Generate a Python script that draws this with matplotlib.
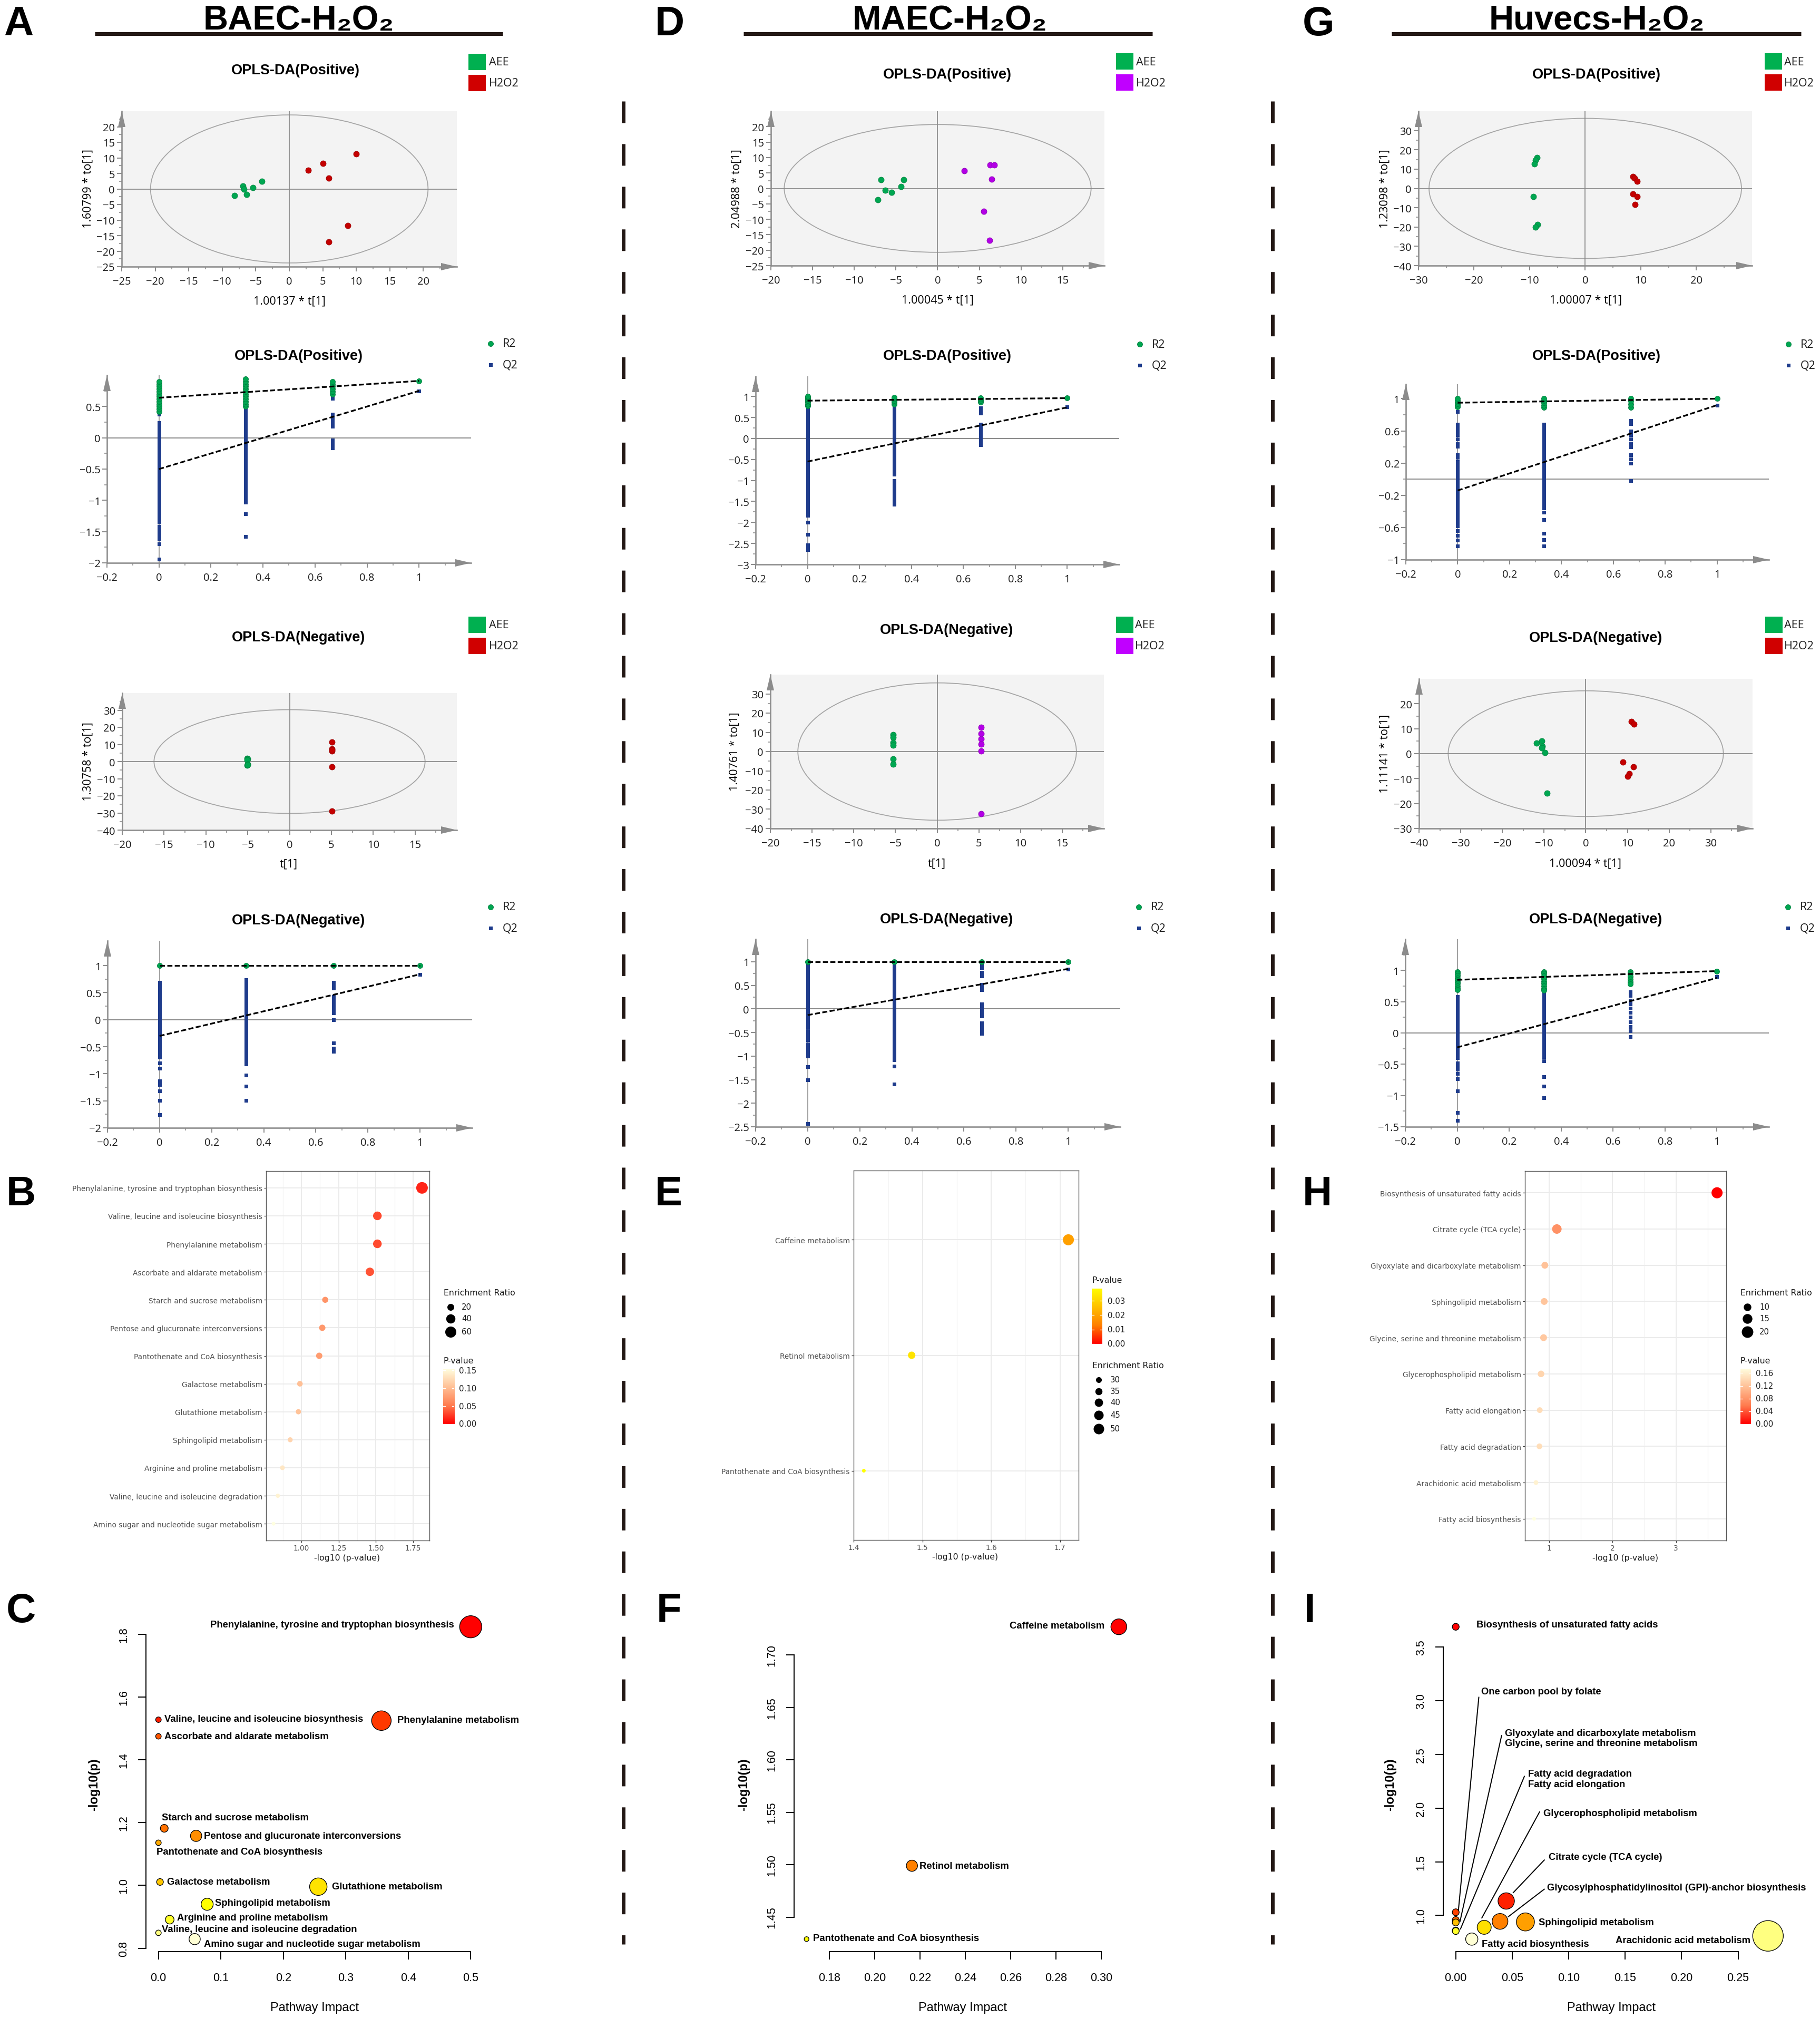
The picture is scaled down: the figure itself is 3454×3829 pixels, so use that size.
import numpy as np
import matplotlib
matplotlib.use("Agg")
import matplotlib.pyplot as plt
from matplotlib.patches import Ellipse, Polygon, Rectangle
from matplotlib.colors import LinearSegmentedColormap, Normalize, hsv_to_rgb
from matplotlib.ticker import FuncFormatter

plt.rcParams["font.family"] = "Open Sans"

# ---------------- OPLS-DA score plots (t[1], to[1]) ----------------
A_pos_aee_x = [-8.2, -6.9, -6.8, -6.4, -5.4, -4.1]
A_pos_aee_y = [-2.1, 0.9, 0.0, -1.7, 0.5, 2.4]
A_pos_h2o2_x = [2.8, 5.0, 5.9, 10.0, 8.7, 5.9]
A_pos_h2o2_y = [6.1, 8.3, 3.5, 11.2, -11.7, -17.0]
A_neg_aee_x = [-5.1, -5.0, -5.1, -5.0, -5.1, -5.0]
A_neg_aee_y = [2.0, 1.4, 1.0, -1.6, -2.0, -1.8]
A_neg_h2o2_x = [5.1, 5.1, 5.1, 5.1, 5.1, 5.1]
A_neg_h2o2_y = [11.5, 7.4, 6.1, 6.8, -3.1, -28.8]

D_pos_aee_x = [-6.8, -4.1, -4.4, -6.3, -5.5, -7.2]
D_pos_aee_y = [2.8, 2.8, 0.6, -0.6, -1.3, -3.6]
D_pos_h2o2_x = [3.2, 6.3, 6.8, 6.5, 5.5, 6.2]
D_pos_h2o2_y = [5.8, 7.6, 7.6, 3.0, -7.4, -16.8]
D_neg_aee_x = [-5.3, -5.3, -5.3, -5.3, -5.3, -5.3]
D_neg_aee_y = [8.9, 7.3, 4.6, 3.3, -3.8, -6.6]
D_neg_h2o2_x = [5.3, 5.3, 5.3, 5.3, 5.3, 5.3]
D_neg_h2o2_y = [12.5, 9.3, 6.7, 3.8, 0.4, -32.2]

G_pos_aee_x = [-8.7, -9.0, -9.1, -9.3, -8.6, -9.0]
G_pos_aee_y = [15.9, 14.5, 12.8, -4.1, -18.6, -20.1]
G_pos_h2o2_x = [8.6, 8.9, 9.3, 8.6, 9.3, 9.0]
G_pos_h2o2_y = [6.2, 5.2, 3.7, -2.9, -4.1, -8.3]
G_neg_aee_x = [-11.8, -10.5, -10.4, -10.5, -9.8, -9.3]
G_neg_aee_y = [4.3, 5.1, 3.0, 2.3, 0.4, -15.9]
G_neg_h2o2_x = [10.9, 11.6, 8.9, 11.5, 10.4, 10.0]
G_neg_h2o2_y = [12.8, 11.8, -3.3, -5.2, -8.1, -9.1]

# Hotelling T2 ellipse half-axes
A_pos_ell = (20.7, 23.8)
A_neg_ell = (16.2, 30.3)
D_pos_ell = (18.4, 20.7)
D_neg_ell = (16.7, 35.7)
G_pos_ell = (28.1, 36.3)
G_neg_ell = (33.0, 25.2)

# axis ticks of the score plots
A_pos_xt = [-25, -20, -15, -10, -5, 0, 5, 10, 15, 20]
A_pos_yt = [-25, -20, -15, -10, -5, 0, 5, 10, 15, 20]
A_neg_xt = [-20, -15, -10, -5, 0, 5, 10, 15]
A_neg_yt = [-40, -30, -20, -10, 0, 10, 20, 30]
D_pos_xt = [-20, -15, -10, -5, 0, 5, 10, 15]
D_pos_yt = [-25, -20, -15, -10, -5, 0, 5, 10, 15, 20]
D_neg_xt = [-20, -15, -10, -5, 0, 5, 10, 15]
D_neg_yt = [-40, -30, -20, -10, 0, 10, 20, 30]
G_pos_xt = [-30, -20, -10, 0, 10, 20]
G_pos_yt = [-40, -30, -20, -10, 0, 10, 20, 30]
G_neg_xt = [-40, -30, -20, -10, 0, 10, 20, 30]
G_neg_yt = [-30, -20, -10, 0, 10, 20]

# ---------------- permutation tests (200 permutations) ----------------
perm_x = [0.0, 0.333, 0.667, 1.0]
perm_xt = [-0.2, 0, 0.2, 0.4, 0.6, 0.8, 1]

A_pos_r2 = [[0.42, 0.46, 0.5, 0.54, 0.58, 0.62, 0.66, 0.7, 0.74, 0.78, 0.82, 0.86, 0.9],
            [0.5, 0.54, 0.58, 0.62, 0.66, 0.7, 0.74, 0.78, 0.82, 0.86, 0.9, 0.94],
            [0.7, 0.74, 0.78, 0.82, 0.86, 0.9],
            [0.91]]
A_pos_q2 = [[0.66, 0.62, 0.58, 0.54, 0.5, 0.46, 0.42, 0.38, 0.24, 0.2, 0.16, 0.12, 0.08, 0.04, 0.0,
             -0.04, -0.08, -0.12, -0.16, -0.2, -0.24, -0.28, -0.32, -0.36, -0.4, -0.44, -0.48, -0.52,
             -0.56, -0.6, -0.64, -0.68, -0.72, -0.76, -0.8, -0.84, -0.88, -0.92, -0.96, -1.0, -1.06,
             -1.1, -1.14, -1.2, -1.25, -1.3, -1.35, -1.42, -1.48, -1.52, -1.58, -1.62, -1.7, -1.94],
            [0.66, 0.62, 0.58, 0.54, 0.5, 0.44, 0.4, 0.36, 0.32, 0.28, 0.24, 0.2, 0.16, 0.12, 0.08,
             0.04, 0.0, -0.04, -0.08, -0.12, -0.16, -0.2, -0.24, -0.28, -0.32, -0.36, -0.4, -0.44,
             -0.48, -0.52, -0.56, -0.6, -0.64, -0.68, -0.72, -0.76, -0.8, -0.84, -0.88, -0.92, -0.96,
             -1.0, -1.03, -1.22, -1.58],
            [0.67, 0.63, 0.38, 0.34, 0.3, 0.26, 0.22, 0.18, -0.04, -0.08, -0.12, -0.16],
            [0.75]]
A_pos_r2_fit = [0.64, 0.91]
A_pos_q2_fit = [-0.5, 0.75]
A_pos_pyt = [-2, -1.5, -1, -0.5, 0, 0.5]

A_neg_r2 = [[1.0], [1.0], [1.0], [1.0]]
A_neg_q2 = [[0.69, 0.65, 0.61, 0.57, 0.53, 0.49, 0.45, 0.41, 0.37, 0.33, 0.29, 0.25, 0.21, 0.17, 0.13,
             0.09, 0.05, 0.01, -0.03, -0.07, -0.11, -0.15, -0.19, -0.23, -0.27, -0.33, -0.37, -0.41,
             -0.45, -0.49, -0.53, -0.57, -0.61, -0.65, -0.69, -0.8, -0.9, -1.13, -1.17, -1.2, -1.32,
             -1.49, -1.76],
            [0.74, 0.7, 0.66, 0.62, 0.58, 0.54, 0.5, 0.46, 0.42, 0.38, 0.34, 0.3, 0.26, 0.22, 0.18,
             0.14, 0.1, 0.06, 0.02, -0.02, -0.06, -0.1, -0.14, -0.18, -0.22, -0.26, -0.3, -0.34,
             -0.38, -0.42, -0.46, -0.5, -0.54, -0.58, -0.62, -0.66, -0.7, -0.75, -0.82, -1.03,
             -1.23, -1.49],
            [0.69, 0.64, 0.58, 0.43, 0.38, 0.33, 0.28, 0.22, 0.17, 0.12, 0.0, -0.43, -0.53, -0.59],
            [0.84]]
A_neg_r2_fit = [1.0, 1.0]
A_neg_q2_fit = [-0.3, 0.84]
A_neg_pyt = [-2, -1.5, -1, -0.5, 0, 0.5, 1]

D_pos_r2 = [[0.78, 0.82, 0.86, 0.9, 0.94, 0.98, 1.0],
            [0.82, 0.86, 0.9, 0.94, 0.98],
            [0.86, 0.9, 0.94, 0.97],
            [0.96]]
D_pos_q2 = [[0.76, 0.7, 0.64, 0.58, 0.52, 0.46, 0.4, 0.34, 0.28, 0.22, 0.16, 0.1, 0.04, -0.02, -0.08,
             -0.14, -0.2, -0.26, -0.32, -0.38, -0.44, -0.5, -0.56, -0.62, -0.68, -0.74, -0.8, -0.86,
             -0.92, -0.98, -1.04, -1.1, -1.16, -1.22, -1.28, -1.36, -1.42, -1.5, -1.56, -1.62, -1.7,
             -1.78, -1.83, -1.99, -2.29, -2.54, -2.6, -2.65],
            [0.88, 0.82, 0.76, 0.7, 0.64, 0.58, 0.52, 0.46, 0.4, 0.34, 0.28, 0.22, 0.16, 0.1, 0.04,
             -0.02, -0.08, -0.14, -0.2, -0.26, -0.32, -0.38, -0.44, -0.5, -0.56, -0.62, -0.68, -0.74,
             -0.8, -0.86, -1.0, -1.06, -1.12, -1.18, -1.24, -1.3, -1.36, -1.42, -1.48, -1.54, -1.57],
            [0.73, 0.66, 0.6, 0.34, 0.27, 0.2, 0.16, 0.07, 0.0, -0.07, -0.15],
            [0.75]]
D_pos_r2_fit = [0.9, 0.96]
D_pos_q2_fit = [-0.55, 0.74]
D_pos_pyt = [-3, -2.5, -2, -1.5, -1, -0.5, 0, 0.5, 1]

D_neg_r2 = [[1.0], [1.0], [1.0], [1.0]]
D_neg_q2 = [[1.0, 0.94, 0.88, 0.8, 0.74, 0.66, 0.6, 0.52, 0.46, 0.38, 0.32, 0.24, 0.18, 0.1, 0.04,
             -0.04, -0.1, -0.18, -0.24, -0.32, -0.38, -0.46, -0.52, -0.6, -0.66, -0.74, -0.8, -0.88,
             -0.94, -1.0, -1.23, -1.5, -2.43],
            [1.0, 0.95, 0.9, 0.85, 0.8, 0.75, 0.7, 0.65, 0.6, 0.55, 0.5, 0.45, 0.4, 0.35, 0.3, 0.25,
             0.2, 0.15, 0.1, 0.05, 0.0, -0.05, -0.1, -0.15, -0.2, -0.25, -0.3, -0.35, -0.4, -0.45,
             -0.5, -0.55, -0.6, -0.65, -0.7, -0.75, -0.8, -0.85, -0.9, -0.95, -1.0, -1.04, -1.08,
             -1.21, -1.6],
            [1.0, 0.93, 0.86, 0.78, 0.7, 0.52, 0.46, 0.41, 0.11, 0.05, -0.02, -0.08, -0.15, -0.3,
             -0.37, -0.44, -0.52],
            [0.84]]
D_neg_r2_fit = [1.0, 1.0]
D_neg_q2_fit = [-0.13, 0.85]
D_neg_pyt = [-2.5, -2, -1.5, -1, -0.5, 0, 0.5, 1]

G_pos_r2 = [[0.9, 0.92, 0.94, 0.96, 0.98, 1.0],
            [0.89, 0.92, 0.95, 0.98, 1.0],
            [0.89, 0.93, 0.97, 1.0],
            [1.0]]
G_pos_q2 = [[0.84, 0.68, 0.64, 0.6, 0.55, 0.5, 0.45, 0.41, 0.3, 0.27, 0.22, 0.18, 0.14, 0.1, 0.06,
             0.02, -0.02, -0.06, -0.1, -0.14, -0.18, -0.22, -0.26, -0.3, -0.34, -0.38, -0.42, -0.46,
             -0.5, -0.54, -0.58, -0.64, -0.7, -0.76, -0.83],
            [0.68, 0.64, 0.6, 0.56, 0.52, 0.48, 0.44, 0.4, 0.36, 0.32, 0.28, 0.24, 0.2, 0.16, 0.12,
             0.08, 0.04, 0.0, -0.04, -0.08, -0.12, -0.16, -0.2, -0.24, -0.28, -0.32, -0.36, -0.41,
             -0.5, -0.67, -0.75, -0.83],
            [0.73, 0.69, 0.6, 0.55, 0.5, 0.45, 0.4, 0.3, 0.25, 0.2, -0.02],
            [0.92]]
G_pos_r2_fit = [0.95, 1.0]
G_pos_q2_fit = [-0.14, 0.92]
G_pos_pyt = [-1, -0.6, -0.2, 0.2, 0.6, 1]

G_neg_r2 = [[0.98, 0.95, 0.92, 0.88, 0.85, 0.82, 0.79, 0.75, 0.72, 0.69],
            [0.98, 0.95, 0.91, 0.87, 0.83, 0.79, 0.75, 0.71, 0.68],
            [0.98, 0.94, 0.9, 0.86, 0.82, 0.78],
            [0.99]]
G_neg_q2 = [[0.58, 0.53, 0.48, 0.43, 0.38, 0.33, 0.28, 0.23, 0.18, 0.13, 0.08, 0.03, -0.02, -0.07,
             -0.12, -0.17, -0.22, -0.27, -0.32, -0.37, -0.4, -0.48, -0.53, -0.58, -0.65, -0.73,
             -0.93, -1.27, -1.4],
            [0.72, 0.67, 0.62, 0.57, 0.52, 0.47, 0.42, 0.37, 0.32, 0.27, 0.22, 0.17, 0.12, 0.07, 0.02,
             -0.03, -0.08, -0.13, -0.18, -0.23, -0.28, -0.33, -0.38, -0.45, -0.7, -0.85, -1.04],
            [0.66, 0.6, 0.52, 0.46, 0.4, 0.33, 0.25, 0.18, 0.1, 0.03, -0.06],
            [0.9]]
G_neg_r2_fit = [0.85, 0.99]
G_neg_q2_fit = [-0.23, 0.88]
G_neg_pyt = [-1.5, -1, -0.5, 0, 0.5, 1]

# ---------------- enrichment (B, E, H) ----------------
B_paths = ["Phenylalanine, tyrosine and tryptophan biosynthesis",
           "Valine, leucine and isoleucine biosynthesis", "Phenylalanine metabolism",
           "Ascorbate and aldarate metabolism", "Starch and sucrose metabolism",
           "Pentose and glucuronate interconversions", "Pantothenate and CoA biosynthesis",
           "Galactose metabolism", "Glutathione metabolism", "Sphingolipid metabolism",
           "Arginine and proline metabolism", "Valine, leucine and isoleucine degradation",
           "Amino sugar and nucleotide sugar metabolism"]
B_pval = [0.0155, 0.0309, 0.0309, 0.0347, 0.0692, 0.0724, 0.0759, 0.1023, 0.1047, 0.1189,
          0.1340, 0.1439, 0.1538]
B_ratio = [66.7, 34.4, 34.4, 32.5, 14.9, 16.5, 16.5, 12.2, 10.5, 9.3, 8.0, 5.9, 4.1]
B_xt = [1.00, 1.25, 1.50, 1.75]
B_xtl = ["1.00", "1.25", "1.50", "1.75"]
B_ratio_breaks = [20, 40, 60]
B_p_breaks = [0.00, 0.05, 0.10, 0.15]

E_paths = ["Caffeine metabolism", "Retinol metabolism", "Pantothenate and CoA biosynthesis"]
E_pval = [0.0194, 0.0328, 0.0385]
E_ratio = [52.4, 36.0, 22.7]
E_xt = [1.4, 1.5, 1.6, 1.7]
E_xtl = ["1.4", "1.5", "1.6", "1.7"]
E_ratio_breaks = [30, 35, 40, 45, 50]
E_p_breaks = [0.00, 0.01, 0.02, 0.03]

H_paths = ["Biosynthesis of unsaturated fatty acids", "Citrate cycle (TCA cycle)",
           "Glyoxylate and dicarboxylate metabolism", "Sphingolipid metabolism",
           "Glycine, serine and threonine metabolism", "Glycerophospholipid metabolism",
           "Fatty acid elongation", "Fatty acid degradation", "Arachidonic acid metabolism",
           "Fatty acid biosynthesis"]
H_pval = [0.000224, 0.0759, 0.1175, 0.1202, 0.1230, 0.1349, 0.1413, 0.1429, 0.1622, 0.1738]
H_ratio = [18.6, 14.4, 8.5, 8.5, 8.5, 8.0, 6.5, 6.5, 4.9, 3.6]
H_xt = [1, 2, 3]
H_xtl = ["1", "2", "3"]
H_ratio_breaks = [10, 15, 20]
H_p_breaks = [0.00, 0.04, 0.08, 0.12, 0.16]

# ---------------- pathway impact (C, F, I) ----------------
C_paths = ["Phenylalanine, tyrosine and tryptophan biosynthesis", "Phenylalanine metabolism",
           "Valine, leucine and isoleucine biosynthesis", "Ascorbate and aldarate metabolism",
           "Starch and sucrose metabolism", "Pentose and glucuronate interconversions",
           "Pantothenate and CoA biosynthesis", "Galactose metabolism", "Glutathione metabolism",
           "Sphingolipid metabolism", "Arginine and proline metabolism",
           "Valine, leucine and isoleucine degradation",
           "Amino sugar and nucleotide sugar metabolism"]
C_impact = [0.5, 0.357, 0.0, 0.0, 0.0093, 0.0603, 0.0, 0.0025, 0.256, 0.078, 0.018, 0.0, 0.058]
C_logp = [1.824, 1.525, 1.528, 1.475, 1.182, 1.158, 1.136, 1.011, 0.996, 0.940, 0.891, 0.849, 0.829]
C_xt = [0.0, 0.1, 0.2, 0.3, 0.4, 0.5]
C_xtl = ["0.0", "0.1", "0.2", "0.3", "0.4", "0.5"]
C_yt = [0.8, 1.0, 1.2, 1.4, 1.6, 1.8]
C_ytl = ["0.8", "1.0", "1.2", "1.4", "1.6", "1.8"]

F_paths = ["Caffeine metabolism", "Retinol metabolism", "Pantothenate and CoA biosynthesis"]
F_impact = [0.3077, 0.2164, 0.1699]
F_logp = [1.727, 1.499, 1.429]
F_xt = [0.18, 0.20, 0.22, 0.24, 0.26, 0.28, 0.30]
F_xtl = ["0.18", "0.20", "0.22", "0.24", "0.26", "0.28", "0.30"]
F_yt = [1.45, 1.50, 1.55, 1.60, 1.65, 1.70]
F_ytl = ["1.45", "1.50", "1.55", "1.60", "1.65", "1.70"]

I_paths = ["Biosynthesis of unsaturated fatty acids", "Citrate cycle (TCA cycle)",
           "One carbon pool by folate", "Glyoxylate and dicarboxylate metabolism",
           "Glycosylphosphatidylinositol (GPI)-anchor biosynthesis", "Sphingolipid metabolism",
           "Glycine, serine and threonine metabolism", "Glycerophospholipid metabolism",
           "Fatty acid degradation", "Fatty acid elongation", "Arachidonic acid metabolism",
           "Fatty acid biosynthesis"]
I_impact = [0.0, 0.0447, 0.0, 0.0, 0.0392, 0.0617, 0.0, 0.0252, 0.0, 0.0, 0.2765, 0.0142]
I_logp = [3.69, 1.135, 1.03, 0.958, 0.945, 0.94, 0.935, 0.89, 0.86, 0.855, 0.81, 0.78]
I_xt = [0.0, 0.05, 0.10, 0.15, 0.20, 0.25]
I_xtl = ["0.00", "0.05", "0.10", "0.15", "0.20", "0.25"]
I_yt = [1.0, 1.5, 2.0, 2.5, 3.0, 3.5]
I_ytl = ["1.0", "1.5", "2.0", "2.5", "3.0", "3.5"]

# ---------------- figure helpers ----------------
W, H = 3455, 3830
PT = 0.72                     # pixels -> points at 100 dpi
GRAY = "#8c8c8c"
BOLD = ["Liberation Sans", "DejaVu Sans"]
GG = "DejaVu Sans"
RF = "Liberation Sans"
GG_TEXT = 9.8
GG_LEG = 11.3
BUB_LAB = 13.3

fig = plt.figure(figsize=(W / 100, H / 100), dpi=100)
fig.patch.set_facecolor("white")
ov = fig.add_axes([0, 0, 1, 1], zorder=30)
ov.set_xlim(0, W)
ov.set_ylim(H, 0)
ov.axis("off")
ov.patch.set_alpha(0)


def add_ax(x0, y0, x1, y1, z=5):
    return fig.add_axes([x0 / W, 1 - y1 / H, (x1 - x0) / W, (y1 - y0) / H], zorder=z)


def txt(x, y, s, size, **kw):
    kw.setdefault("ha", "center")
    kw.setdefault("va", "center")
    ov.text(x, y, s, fontsize=size, **kw)


def gfmt(v, pos=None):
    return ("%g" % v).replace("-", "\u2212")


def minors(ticks, lim):
    step = ticks[1] - ticks[0]
    cand = [t + step / 2 for t in ticks] + [ticks[0] - step / 2]
    return [c for c in cand if lim[0] + 1e-9 < c < lim[1] - 1e-9]


def simca_axes(ax, box, xlim, ylim, xt, yt):
    for s in ("top", "right"):
        ax.spines[s].set_visible(False)
    for s in ("left", "bottom"):
        ax.spines[s].set_color(GRAY)
        ax.spines[s].set_linewidth(2.6 * PT)
    ax.set_xticks(xt)
    ax.set_yticks(yt)
    ax.set_xticks(minors(xt, xlim), minor=True)
    ax.set_yticks(minors(yt, ylim), minor=True)
    ax.set_xlim(*xlim)
    ax.set_ylim(*ylim)
    ax.xaxis.set_major_formatter(FuncFormatter(gfmt))
    ax.yaxis.set_major_formatter(FuncFormatter(gfmt))
    ax.tick_params(which="major", length=9 * PT, width=2 * PT, color=GRAY,
                   labelsize=14.5, labelcolor="#1a1a1a")
    ax.tick_params(which="minor", length=5 * PT, width=1.6 * PT, color=GRAY)
    ax.tick_params(axis="x", which="major", pad=9 * PT)
    ax.tick_params(axis="y", which="major", pad=4 * PT)
    x0, y0, x1, y1 = box
    ov.add_patch(Polygon([(x0, y0), (x0 - 7, y0 + 30), (x0 + 7, y0 + 30)], closed=True,
                         color=GRAY, lw=0))
    ov.add_patch(Polygon([(x1, y1), (x1 - 30, y1 - 7), (x1 - 30, y1 + 7)], closed=True,
                         color=GRAY, lw=0))


def score_plot(box, xlim, ylim, xt, yt, ell, gx, gy, tx, ty, tcol, tedge):
    ax = add_ax(*box)
    ax.set_facecolor("#f3f3f3")
    ax.add_patch(Ellipse((0, 0), 2 * ell[0], 2 * ell[1], fill=False, ec="#a6a6a6", lw=1.8 * PT))
    ax.axhline(0, color=GRAY, lw=1.8 * PT, zorder=1)
    ax.axvline(0, color=GRAY, lw=1.8 * PT, zorder=1)
    ax.scatter(gx, gy, s=(11 * PT) ** 2, c="#00a651", edgecolors="#00843d", linewidths=0.6, zorder=3)
    ax.scatter(tx, ty, s=(11 * PT) ** 2, c=tcol, edgecolors=tedge, linewidths=0.6, zorder=3)
    simca_axes(ax, box, xlim, ylim, xt, yt)
    return ax


def perm_plot(box, ylim, yt, r2, q2, r2_fit, q2_fit):
    ax = add_ax(*box)
    ax.patch.set_alpha(0)
    ax.axhline(0, color=GRAY, lw=2 * PT, zorder=1)
    ax.axvline(0, color=GRAY, lw=1.6 * PT, zorder=1)
    for xv, vals in zip(perm_x, q2):
        ax.scatter([xv] * len(vals), vals, marker="s", s=(7 * PT) ** 2, c="#1f3c8c",
                   linewidths=0, zorder=3)
    for xv, vals in zip(perm_x, r2):
        ax.scatter([xv] * len(vals), vals, marker="o", s=(10 * PT) ** 2, c="#00a651",
                   edgecolors="#007a3d", linewidths=0.6, zorder=4)
    ax.plot([perm_x[0], perm_x[-1]], r2_fit, color="black", lw=3.2 * PT, ls=(0, (3, 1.4)), zorder=5)
    ax.plot([perm_x[0], perm_x[-1]], q2_fit, color="black", lw=3.2 * PT, ls=(0, (3, 1.4)), zorder=5)
    simca_axes(ax, box, (-0.2, 1.2), ylim, perm_xt, yt)
    ax.tick_params(axis="y", which="major", pad=3 * PT)
    return ax


def group_legend(x0, y0, tcol, lab_x, y_step=40):
    ov.add_patch(Rectangle((x0, y0), 33, 31, color="#00b050", lw=0))
    ov.add_patch(Rectangle((x0, y0 + y_step), 33, 31, color=tcol, lw=0))
    txt(lab_x, y0 + 16, "AEE", 15.5, ha="left", color="#1a1a1a")
    txt(lab_x, y0 + y_step + 16, "H2O2", 15.5, ha="left", color="#1a1a1a")


def perm_legend(x, y, lab_x):
    ov.scatter([x], [y], s=(10 * PT) ** 2, c="#00a651", edgecolors="#007a3d", linewidths=0.6)
    ov.scatter([x], [y + 40], marker="s", s=(7 * PT) ** 2, c="#1f3c8c", linewidths=0)
    txt(lab_x, y, "R2", 15.5, ha="left", color="#1a1a1a")
    txt(lab_x, y + 40, "Q2", 15.5, ha="left", color="#1a1a1a")


def title(x, y, s):
    txt(x, y, s, 19.5, family=BOLD, fontweight="bold")


# colour scales of the enrichment plots (ggplot gradients)
cm_pale = LinearSegmentedColormap.from_list("pale", ["#ff0000", "#ff7c4f", "#ffc096", "#ffffe0"])
cm_yell = LinearSegmentedColormap.from_list("yell", ["#ff0000", "#ff7f00", "#ffc100", "#ffff00"])


def enrich_plot(box, names, pvals, ratio, cmap, xt, xtl, dsize):
    ax = add_ax(*box)
    pvals = np.array(pvals)
    x = -np.log10(pvals)
    n = len(names)
    yp = np.arange(n, 0, -1)
    r = x.max() - x.min()
    ax.set_xticks(xt)
    ax.set_xticklabels(xtl)
    step = xt[1] - xt[0]
    ax.set_xticks([t + step / 2 for t in [xt[0] - step] + list(xt)], minor=True)
    ax.set_yticks(yp)
    ax.set_yticklabels(names)
    ax.set_xlim(x.min() - 0.05 * r, x.max() + 0.05 * r)
    ax.set_ylim(0.4, n + 0.6)
    ax.grid(which="major", color="#ebebeb", lw=2 * PT)
    ax.grid(which="minor", axis="x", color="#f3f3f3", lw=1.2 * PT)
    ax.set_axisbelow(True)
    d = dsize(np.array(ratio))
    ax.scatter(x, yp, s=(d * PT) ** 2, c=pvals, cmap=cmap, norm=Normalize(0, pvals.max()),
               linewidths=0, zorder=3)
    for s in ax.spines.values():
        s.set_color("#555555")
        s.set_linewidth(1.4 * PT)
    ax.tick_params(which="major", length=4 * PT, width=1.3 * PT, color="#333333",
                   labelsize=GG_TEXT, labelcolor="#4d4d4d", pad=3 * PT)
    ax.tick_params(which="minor", length=0)
    for t in ax.get_xticklabels() + ax.get_yticklabels():
        t.set_family(GG)
    return ax


def colorbar(x0, y0, x1, y1, cmap, vmax, breaks, lab_x):
    cax = add_ax(x0, y0, x1, y1, z=6)
    grad = np.linspace(0, 1, 256).reshape(-1, 1)
    cax.imshow(grad, aspect="auto", cmap=cmap, origin="lower", extent=(0, 1, 0, vmax))
    cax.set_xlim(0, 1)
    cax.set_ylim(0, vmax)
    cax.axis("off")
    for b in breaks:
        cax.plot([0, 0.2], [b, b], color="white", lw=1.3 * PT)
        cax.plot([0.8, 1], [b, b], color="white", lw=1.3 * PT)
        yy = y1 - (y1 - y0) * b / vmax
        txt(lab_x, yy, "%.2f" % b, GG_LEG - 0.6, ha="left", family=GG, color="#1a1a1a")


def size_legend(x, ys, breaks, dsize, lab_x):
    for yy, b in zip(ys, breaks):
        ov.scatter([x], [yy], s=(float(dsize(b)) * PT) ** 2, c="black", linewidths=0)
        txt(lab_x, yy, str(b), GG_LEG - 0.6, ha="left", family=GG, color="#1a1a1a")


def heat_colors(n):
    j = n // 4
    i = n - j
    cols = [hsv_to_rgb((h, 1, 1)) for h in np.linspace(0, 1 / 6, i)]
    if j:
        cols += [hsv_to_rgb((1 / 6, s, 1)) for s in np.linspace(1 - 1 / (2 * j), 1 / (2 * j), j)]
    return cols


def bubble_plot(x0, impact, logp, xt, xtl, yt, ytl, dmin, dmax):
    ax = add_ax(x0, 3064, x0 + 640, 3704)
    ax.patch.set_alpha(0)
    impact = np.array(impact)
    logp = np.array(logp)
    rx = impact.max() - impact.min()
    ry = logp.max() - logp.min()
    hc = heat_colors(len(logp))
    cols = [None] * len(logp)
    for k, idx in enumerate(np.argsort(-logp, kind="stable")):
        cols[idx] = hc[k]
    d = dmin + (dmax - dmin) * np.sqrt((impact - impact.min()) / rx)
    ax.scatter(impact, logp, s=(d * PT) ** 2, c=cols, edgecolors="black", linewidths=1.3 * PT,
               zorder=3, clip_on=False)
    for s in ("top", "right"):
        ax.spines[s].set_visible(False)
    for s in ("left", "bottom"):
        ax.spines[s].set_linewidth(2 * PT)
    ax.set_xticks(xt)
    ax.set_xticklabels(xtl)
    ax.set_yticks(yt)
    ax.set_yticklabels(ytl, rotation=90, va="center")
    ax.set_xlim(impact.min() - 0.04 * rx, impact.max() + 0.04 * rx)
    ax.set_ylim(logp.min() - 0.04 * ry, logp.max() + 0.04 * ry)
    ax.spines["left"].set_bounds(yt[0], yt[-1])
    ax.spines["bottom"].set_bounds(xt[0], xt[-1])
    ax.tick_params(length=15 * PT, width=2 * PT, labelsize=15.5, labelcolor="black")
    ax.tick_params(axis="x", pad=24 * PT)
    ax.tick_params(axis="y", pad=17 * PT)
    for t in ax.get_xticklabels() + ax.get_yticklabels():
        t.set_family(RF)
    return ax


def to_px(ax, x, y):
    X, Y = ax.transData.transform((x, y))
    return X, H - Y


def bubble_labels(ax, impact, logp, layout):
    for xv, yv, lay in zip(impact, logp, layout):
        if lay is None:
            continue
        text, dx, dy, ha, lead = lay
        px0, py0 = to_px(ax, xv, yv)
        if lead is not None:
            ov.plot([px0 + lead[0], px0 + lead[2]], [py0 + lead[1], py0 + lead[3]],
                    color="black", lw=2 * PT)
        txt(px0 + dx, py0 + dy, text, BUB_LAB, ha=ha, family=RF, fontweight="bold",
            linespacing=1.2)


# ---------------- header rows ----------------
for ltr, lx, head, hx, ux0, ux1 in [("A", 7, "BAEC-H\u2082O\u2082", 567, 180, 954),
                                     ("D", 1243, "MAEC-H\u2082O\u2082", 1803, 1411, 2187),
                                     ("G", 2472, "Huvecs-H\u2082O\u2082", 3030, 2641, 3418)]:
    ov.text(lx, 67, ltr, fontsize=56, fontweight="bold", family=BOLD, ha="left", va="baseline")
    ov.text(hx, 56, head, fontsize=47, fontweight="bold", family=BOLD, ha="center", va="baseline")
    ov.plot([ux0, ux1], [64.5, 64.5], color="#231815", lw=7 * PT, solid_capstyle="butt")

for ltr, lx, ly in [("B", 12, 2287), ("E", 1243, 2287), ("H", 2472, 2287),
                    ("C", 12, 3078), ("F", 1246, 3078), ("I", 2475, 3078)]:
    ov.text(lx, ly, ltr, fontsize=56, fontweight="bold", family=BOLD, ha="left", va="baseline")

for sx in (1183, 2415):
    ov.plot([sx, sx], [193, 3690], color="#231815", lw=7 * PT, ls=(0, (5.86, 5.7)))

# ---------------- column A ----------------
score_plot((231, 212, 867, 507), (-25, 25), (-25, 25), A_pos_xt, A_pos_yt, A_pos_ell,
           A_pos_aee_x, A_pos_aee_y, A_pos_h2o2_x, A_pos_h2o2_y, "#c40000", "#990000")
title(561, 134, "OPLS-DA(Positive)")
group_legend(889, 103, "#d00000", 928)
txt(549, 572, "1.00137 * t[1]", 15.5)
txt(167, 358, "1.60799 * to[1]", 15.5, rotation=90)

perm_plot((203, 713, 894, 1069), (-2, 1.0), A_pos_pyt, A_pos_r2, A_pos_q2, A_pos_r2_fit, A_pos_q2_fit)
title(567, 676, "OPLS-DA(Positive)")
perm_legend(931, 653, 954)

score_plot((232, 1316, 867, 1576), (-20, 20), (-40, 40), A_neg_xt, A_neg_yt, A_neg_ell,
           A_neg_aee_x, A_neg_aee_y, A_neg_h2o2_x, A_neg_h2o2_y, "#c40000", "#990000")
title(567, 1210, "OPLS-DA(Negative)")
group_legend(889, 1171, "#d00000", 928)
txt(548, 1640, "t[1]", 15.5)
txt(167, 1445, "1.30758 * to[1]", 15.5, rotation=90)

perm_plot((204, 1786, 896, 2141), (-2, 1.46), A_neg_pyt, A_neg_r2, A_neg_q2, A_neg_r2_fit, A_neg_q2_fit)
title(567, 1747, "OPLS-DA(Negative)")
perm_legend(931, 1722, 954)

# ---------------- column D ----------------
score_plot((1463, 212, 2096, 505), (-20, 20), (-25, 25), D_pos_xt, D_pos_yt, D_pos_ell,
           D_pos_aee_x, D_pos_aee_y, D_pos_h2o2_x, D_pos_h2o2_y, "#b300e6", "#8a00b3")
title(1798, 142, "OPLS-DA(Positive)")
group_legend(2118, 102, "#c000ff", 2156)
txt(1779, 570, "1.00045 * t[1]", 15.5)
txt(1398, 358, "2.04988 * to[1]", 15.5, rotation=90)

perm_plot((1434, 715, 2124, 1072), (-3, 1.48), D_pos_pyt, D_pos_r2, D_pos_q2, D_pos_r2_fit, D_pos_q2_fit)
title(1798, 676, "OPLS-DA(Positive)")
perm_legend(2163, 654, 2186)

score_plot((1462, 1281, 2095, 1573), (-20, 20), (-40, 40), D_neg_xt, D_neg_yt, D_neg_ell,
           D_neg_aee_x, D_neg_aee_y, D_neg_h2o2_x, D_neg_h2o2_y, "#b300e6", "#8a00b3")
title(1797, 1196, "OPLS-DA(Negative)")
group_legend(2118, 1171, "#c000ff", 2154)
txt(1778, 1639, "t[1]", 15.5)
txt(1394, 1426, "1.40761 * to[1]", 15.5, rotation=90)

perm_plot((1434, 1783, 2126, 2139), (-2.5, 1.48), D_neg_pyt, D_neg_r2, D_neg_q2, D_neg_r2_fit, D_neg_q2_fit)
title(1797, 1745, "OPLS-DA(Negative)")
perm_legend(2161, 1722, 2184)

# ---------------- column G ----------------
score_plot((2692, 212, 3325, 505), (-30, 30), (-40, 40), G_pos_xt, G_pos_yt, G_pos_ell,
           G_pos_aee_x, G_pos_aee_y, G_pos_h2o2_x, G_pos_h2o2_y, "#c40000", "#990000")
title(3030, 142, "OPLS-DA(Positive)")
group_legend(3349, 102, "#d00000", 3386)
txt(3010, 570, "1.00007 * t[1]", 15.5)
txt(2628, 358, "1.23098 * to[1]", 15.5, rotation=90)

perm_plot((2668, 730, 3357, 1063), (-1, 1.18), G_pos_pyt, G_pos_r2, G_pos_q2, G_pos_r2_fit, G_pos_q2_fit)
title(3030, 676, "OPLS-DA(Positive)")
perm_legend(3394, 654, 3417)

score_plot((2693, 1289, 3326, 1573), (-40, 40), (-30, 30), G_neg_xt, G_neg_yt, G_neg_ell,
           G_neg_aee_x, G_neg_aee_y, G_neg_h2o2_x, G_neg_h2o2_y, "#c40000", "#990000")
title(3029, 1211, "OPLS-DA(Negative)")
group_legend(3350, 1171, "#d00000", 3386)
txt(3009, 1639, "1.00094 * t[1]", 15.5)
txt(2628, 1430, "1.11141 * to[1]", 15.5, rotation=90)

perm_plot((2667, 1783, 3357, 2139), (-1.5, 1.5), G_neg_pyt, G_neg_r2, G_neg_q2, G_neg_r2_fit, G_neg_q2_fit)
title(3029, 1745, "OPLS-DA(Negative)")
perm_legend(3393, 1722, 3416)

# ---------------- enrichment row ----------------
size_B = lambda r: 2.07 + 2.443 * np.sqrt(r)
size_E = lambda r: -19.9 + 5.65 * np.sqrt(r)
size_H = lambda r: -3.7 + 5.73 * np.sqrt(r)

enrich_plot((505, 2223, 815, 2924), B_paths, B_pval, B_ratio, cm_pale, B_xt, B_xtl, size_B)
txt(659, 2957, "-log10 (p-value)", GG_LEG, family=GG, color="#1a1a1a")
txt(842, 2454, "Enrichment Ratio", GG_LEG, ha="left", family=GG, color="#1a1a1a")
size_legend(855, [2481, 2503, 2527.5], B_ratio_breaks, size_B, 876)
txt(842, 2583, "P-value", GG_LEG, ha="left", family=GG, color="#1a1a1a")
colorbar(841, 2598.5, 862, 2703, cm_pale, max(B_pval), B_p_breaks, 871)

enrich_plot((1620, 2222, 2047, 2923), E_paths, E_pval, E_ratio, cm_yell, E_xt, E_xtl, size_E)
txt(1832, 2955, "-log10 (p-value)", GG_LEG, family=GG, color="#1a1a1a")
txt(2073, 2430, "P-value", GG_LEG, ha="left", family=GG, color="#1a1a1a")
colorbar(2072, 2446, 2092, 2551, cm_yell, max(E_pval), E_p_breaks, 2102)
txt(2073, 2592, "Enrichment Ratio", GG_LEG, ha="left", family=GG, color="#1a1a1a")
size_legend(2085, [2619, 2641, 2662, 2685.6, 2711.6], E_ratio_breaks, size_E, 2107)

enrich_plot((2894, 2223, 3276, 2924), H_paths, H_pval, H_ratio, cm_pale, H_xt, H_xtl, size_H)
txt(3085, 2957, "-log10 (p-value)", GG_LEG, family=GG, color="#1a1a1a")
txt(3303, 2454, "Enrichment Ratio", GG_LEG, ha="left", family=GG, color="#1a1a1a")
size_legend(3316, [2481, 2503, 2527.5], H_ratio_breaks, size_H, 3339)
txt(3303, 2583, "P-value", GG_LEG, ha="left", family=GG, color="#1a1a1a")
colorbar(3303, 2598, 3323, 2703, cm_pale, max(H_pval), H_p_breaks, 3332)

# ---------------- pathway impact row ----------------
axC = bubble_plot(277, C_impact, C_logp, C_xt, C_xtl, C_yt, C_ytl, 10.5, 42)
C_layout = [(C_paths[0], -32, -4, "right", None), (C_paths[1], 30, -1, "left", None),
            (C_paths[2], 11, -1, "left", None), (C_paths[3], 11, 0, "left", None),
            (C_paths[4], -5, -21, "left", None), (C_paths[5], 14.5, 0, "left", None),
            (C_paths[6], -4, 17, "left", None), (C_paths[7], 13, 0, "left", None),
            (C_paths[8], 25.6, 0, "left", None), (C_paths[9], 14.6, -3, "left", None),
            (C_paths[10], 13.7, -4, "left", None), (C_paths[11], 6, -6.5, "left", None),
            (C_paths[12], 17.3, 9.7, "left", None)]
bubble_labels(axC, C_impact, C_logp, C_layout)
txt(597, 3810, "Pathway Impact", 17, family=RF)
txt(179, 3386, "-log10(p)", 17, family=RF, fontweight="bold", rotation=90)

axF = bubble_plot(1507, F_impact, F_logp, F_xt, F_xtl, F_yt, F_ytl, 9, 30)
F_layout = [(F_paths[0], -27, -2, "right", None), (F_paths[1], 14.5, 0, "left", None),
            (F_paths[2], 12.6, -2, "left", None)]
bubble_labels(axF, F_impact, F_logp, F_layout)
txt(1827, 3810, "Pathway Impact", 17, family=RF)
txt(1412, 3386, "-log10(p)", 17, family=RF, fontweight="bold", rotation=90)

axI = bubble_plot(2739, I_impact, I_logp, I_xt, I_xtl, I_yt, I_ytl, 13, 58)
I_layout = [(I_paths[0], 39, -4.7, "left", None),
            (I_paths[1], 80.8, -83.1, "left", (13.3, -15.8, 72.3, -77.8)),
            (I_paths[2], 48, -418.4, "left", (5, -3.2, 43.8, -407.9)),
            (I_paths[3] + "\n" + I_paths[6], 92.8, -345.2, "left", (8, 3, 87, -349.8)),
            (I_paths[4], 89.6, -63.7, "left", (16, -9.1, 84, -61.1)),
            (I_paths[5], 25, 0.5, "left", None),
            None,
            (I_paths[7], 112, -216.2, "left", (-4.5, -17.7, 105, -218.8)),
            (I_paths[8] + "\n" + I_paths[9], 137, -287.7, "left", (9, -2.9, 130.3, -292.6)),
            None,
            (I_paths[10], -33, 8, "right", None),
            (I_paths[11], 19, 9.6, "left", None)]
bubble_labels(axI, I_impact, I_logp, I_layout)
txt(3058, 3810, "Pathway Impact", 17, family=RF)
txt(2639, 3386, "-log10(p)", 17, family=RF, fontweight="bold", rotation=90)

fig.savefig("out.png", dpi=100)
